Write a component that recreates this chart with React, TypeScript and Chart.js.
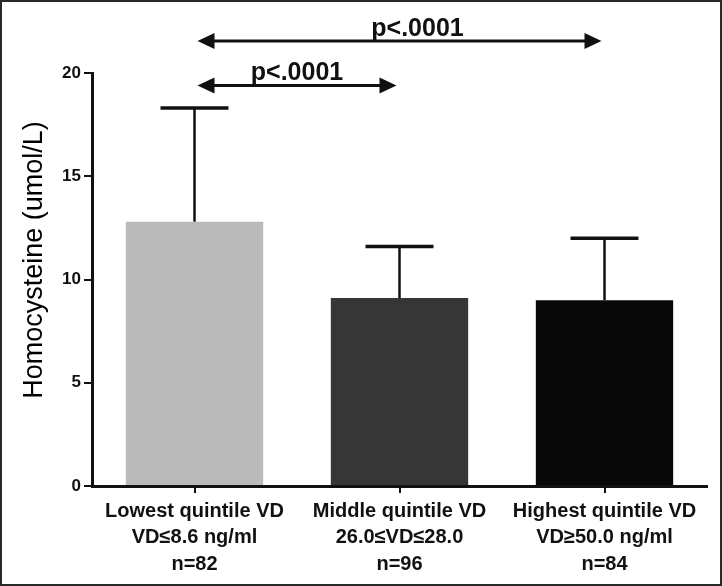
import React, { useEffect, useRef } from "react";
import { Chart, registerables } from "chart.js";

Chart.register(...registerables);

const categories: string[][] = [
  ["Lowest quintile VD", "VD≤8.6 ng/ml", "n=82"],
  ["Middle quintile VD", "26.0≤VD≤28.0", "n=96"],
  ["Highest quintile VD", "VD≥50.0 ng/ml", "n=84"],
];
const means = [12.8, 9.1, 9.0];
const upperErrors = [18.3, 11.6, 12.0];
const barColors = ["#bababa", "#363636", "#080808"];
const yTicks = [0, 5, 10, 15, 20];
const comparisonFrom = [0, 0];
const comparisonTo = [1, 2];
const comparisonLevels = [19.4, 21.55];
const comparisonLabels = ["p<.0001", "p<.0001"];
const comparisonLabelShift = [0, 18];
const yTitle = "Homocysteine (umol/L)";

const FONT = '"Liberation Sans", Arial, Helvetica, sans-serif';

const overlayPlugin = {
  id: "overlay",
  afterDraw(chart: any) {
    const ctx: CanvasRenderingContext2D = chart.ctx;
    const xs = chart.scales.x;
    const ys = chart.scales.y;
    const meta = chart.getDatasetMeta(0);
    ctx.save();
    ctx.strokeStyle = "#111";
    ctx.fillStyle = "#111";
    ctx.lineCap = "butt";
    // error bars
    meta.data.forEach((bar: any, i: number) => {
      const top = ys.getPixelForValue(means[i]);
      const cap = ys.getPixelForValue(upperErrors[i]);
      ctx.lineWidth = 2.5;
      ctx.beginPath();
      ctx.moveTo(bar.x, top);
      ctx.lineTo(bar.x, cap);
      ctx.stroke();
      ctx.lineWidth = 3.5;
      ctx.beginPath();
      ctx.moveTo(bar.x - 34, cap);
      ctx.lineTo(bar.x + 34, cap);
      ctx.stroke();
    });
    // significance arrows
    comparisonFrom.forEach((from, k) => {
      const x1 = xs.getPixelForValue(from) + 3;
      const x2 = xs.getPixelForValue(comparisonTo[k]) - 3;
      const yy = ys.getPixelForValue(comparisonLevels[k]);
      const headL = 17;
      const headH = 8;
      ctx.lineWidth = 3;
      ctx.beginPath();
      ctx.moveTo(x1 + headL - 2, yy);
      ctx.lineTo(x2 - headL + 2, yy);
      ctx.stroke();
      ctx.beginPath();
      ctx.moveTo(x1, yy);
      ctx.lineTo(x1 + headL, yy - headH);
      ctx.lineTo(x1 + headL, yy + headH);
      ctx.closePath();
      ctx.fill();
      ctx.beginPath();
      ctx.moveTo(x2, yy);
      ctx.lineTo(x2 - headL, yy - headH);
      ctx.lineTo(x2 - headL, yy + headH);
      ctx.closePath();
      ctx.fill();
      ctx.font = `bold 25px ${FONT}`;
      ctx.textAlign = "center";
      ctx.textBaseline = "alphabetic";
      ctx.fillText(comparisonLabels[k], (x1 + x2) / 2 + comparisonLabelShift[k], yy - 5);
    });
    // y axis title
    ctx.save();
    ctx.translate(35, 260);
    ctx.rotate(-Math.PI / 2);
    ctx.font = `27px ${FONT}`;
    ctx.textAlign = "center";
    ctx.textBaseline = "middle";
    ctx.fillStyle = "#000";
    ctx.fillText(yTitle, 0, 0);
    ctx.restore();
    // frame
    ctx.strokeStyle = "#2a2a2a";
    ctx.lineWidth = 2;
    ctx.strokeRect(1, 1, chart.width - 2, chart.height - 2);
    ctx.restore();
  },
};

export default function App() {
  const ref = useRef<HTMLCanvasElement | null>(null);
  useEffect(() => {
    document.body.style.margin = "0";
    if (!ref.current) return;
    const chart = new Chart(ref.current, {
      type: "bar",
      data: {
        labels: categories as any,
        datasets: [
          {
            data: means,
            backgroundColor: barColors,
            borderWidth: 0,
            barPercentage: 0.67,
            categoryPercentage: 1,
          },
        ],
      },
      options: {
        responsive: false,
        animation: false,
        devicePixelRatio: 1,
        layout: { padding: { left: 0, top: 73, right: 15, bottom: 0 } },
        plugins: { legend: { display: false }, tooltip: { enabled: false } },
        scales: {
          x: {
            grid: {
              display: true,
              drawOnChartArea: false,
              drawTicks: true,
              offset: false,
              tickLength: 7,
              lineWidth: 2,
              color: "#111",
            },
            border: { display: true, color: "#111", width: 3 },
            ticks: {
              color: "#111",
              padding: 5,
              maxRotation: 0,
              autoSkip: false,
              font: { family: FONT, size: 20, weight: "bold", lineHeight: 1.33 },
            },
            afterFit: (s: any) => {
              s.height = 100;
            },
          },
          y: {
            min: 0,
            max: 20,
            grid: {
              display: true,
              drawOnChartArea: false,
              drawTicks: true,
              tickLength: 8,
              lineWidth: 2,
              color: "#111",
            },
            border: { display: true, color: "#111", width: 3 },
            ticks: {
              color: "#111",
              padding: 3,
              font: { family: FONT, size: 17, weight: "bold" },
            },
            afterBuildTicks: (s: any) => {
              s.ticks = yTicks.map((v) => ({ value: v }));
            },
            afterFit: (s: any) => {
              s.width = 92;
            },
          },
        },
      },
      plugins: [overlayPlugin],
    });
    return () => chart.destroy();
  }, []);
  return (
    <div style={{ width: 722, height: 586, background: "#fff" }}>
      <canvas ref={ref} width={722} height={586} style={{ display: "block", width: 722, height: 586 }} />
    </div>
  );
}
